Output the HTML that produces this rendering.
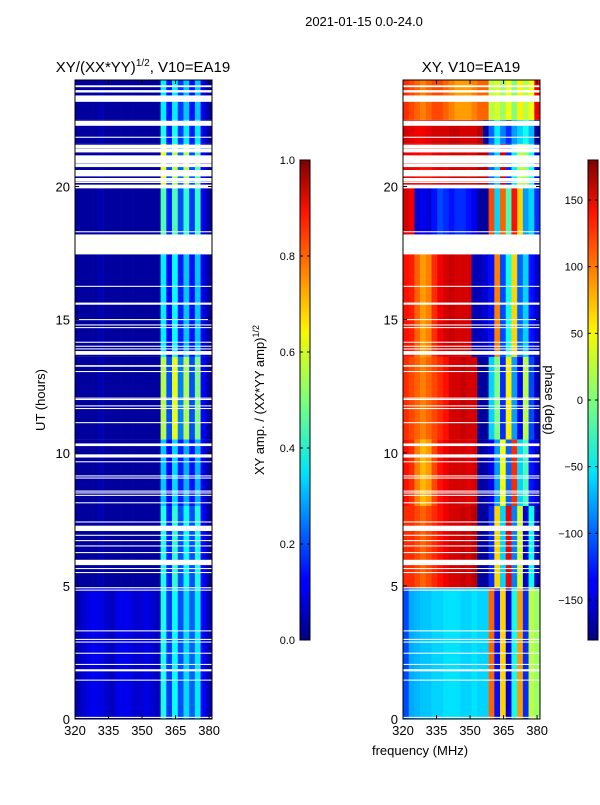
<!DOCTYPE html>
<html><head><meta charset="utf-8">
<style>
html,body{margin:0;padding:0;background:#fff;}
svg text{font-family:"Liberation Sans",sans-serif;fill:#000;}
</style></head>
<body>
<svg id="fig" width="600" height="800" viewBox="0 0 600 800" xmlns="http://www.w3.org/2000/svg">
<defs>
<linearGradient id="jet" x1="0" y1="1" x2="0" y2="0">
<stop offset="0" stop-color="#00007f"/><stop offset="0.11" stop-color="#0000ff"/>
<stop offset="0.125" stop-color="#0000ff"/><stop offset="0.34" stop-color="#00dbff"/>
<stop offset="0.35" stop-color="#00e5f7"/><stop offset="0.5" stop-color="#7dff7a"/>
<stop offset="0.64" stop-color="#f7f700"/><stop offset="0.66" stop-color="#ffe600"/>
<stop offset="0.89" stop-color="#ff1300"/><stop offset="1" stop-color="#7f0000"/>
</linearGradient>
</defs>
<text x="364" y="26" font-size="13" text-anchor="middle">2021-01-15 0.0-24.0</text>
<g id="left"></g>
<g id="right"></g>
<g id="axes"></g>
</svg>
<script>
// ---- data ----
const freqMin = 320, freqMax = 381.3, nChan = 24;
const blockStart = [0, 4.9, 8.0, 10.5, 13.6, 18.2, 20.0, 21.6, 22.5];
const blockEnd   = [4.9, 8.0, 10.5, 13.6, 17.5, 20.0, 21.6, 22.5, 24.0];
const ampB0 = [0.05,0.08,0.1,0.11,0.1,0.08,0.06,0.1,0.11,0.1,0.08,0.08,0.1,0.08,0.06,0.4,0.18,0.38,0.2,0.34,0.22,0.36,0.12,0.05];
const ampB1 = [0.03,0.03,0.03,0.03,0.05,0.03,0.03,0.03,0.03,0.03,0.03,0.03,0.03,0.03,0.03,0.4,0.15,0.42,0.2,0.38,0.2,0.4,0.12,0.03];
const ampB2 = [0.03,0.03,0.03,0.03,0.05,0.03,0.03,0.03,0.03,0.03,0.03,0.03,0.03,0.03,0.03,0.32,0.12,0.34,0.15,0.3,0.14,0.3,0.1,0.03];
const ampB3 = [0.03,0.03,0.03,0.03,0.05,0.03,0.03,0.03,0.03,0.03,0.03,0.03,0.03,0.03,0.03,0.55,0.2,0.6,0.25,0.55,0.2,0.5,0.12,0.03];
const ampB4 = [0.03,0.03,0.03,0.03,0.05,0.03,0.03,0.03,0.03,0.03,0.03,0.03,0.03,0.03,0.03,0.36,0.12,0.38,0.15,0.32,0.14,0.32,0.1,0.03];
const ampB5 = [0.03,0.03,0.03,0.03,0.05,0.03,0.03,0.03,0.03,0.03,0.03,0.03,0.03,0.03,0.03,0.45,0.15,0.45,0.2,0.42,0.18,0.42,0.1,0.03];
const ampB6 = [0.03,0.03,0.03,0.03,0.05,0.03,0.03,0.03,0.03,0.03,0.03,0.03,0.03,0.03,0.03,0.6,0.2,0.55,0.22,0.55,0.2,0.45,0.12,0.03];
const ampB7 = [0.03,0.03,0.03,0.03,0.05,0.03,0.03,0.03,0.03,0.03,0.03,0.03,0.03,0.03,0.03,0.4,0.14,0.4,0.18,0.36,0.15,0.36,0.1,0.03];
const ampB8 = [0.03,0.03,0.03,0.03,0.05,0.03,0.03,0.03,0.03,0.03,0.03,0.03,0.03,0.03,0.03,0.36,0.14,0.36,0.18,0.32,0.14,0.32,0.1,0.03];
const phB0 = [-110,-75,-70,-65,-65,-60,-60,-55,-55,-55,-60,-60,-55,-60,-60,100,-130,60,-150,-40,80,-120,20,10];
const phB1 = [120,120,110,100,110,120,130,140,150,150,155,150,160,-170,-170,-120,60,-60,140,-90,30,-150,-40,-160];
const phB2 = [130,120,90,70,80,110,130,140,150,150,150,145,150,-170,-165,-140,-80,40,-100,120,-60,-20,-130,-150];
const phB3 = [120,110,100,90,100,110,120,130,150,150,155,150,150,-170,-170,-60,0,-120,50,-80,-140,20,-110,-160];
const phB4 = [130,125,100,80,90,120,140,150,155,150,150,150,-160,-160,-150,-130,90,-110,-40,60,-100,-60,-130,-150];
const phB5 = [150,140,-150,-140,-150,-130,-110,-120,-130,-120,-120,-130,-140,-170,-170,110,-60,100,-20,130,60,-80,-60,-120];
const phB6 = [140,140,135,130,130,140,145,140,150,150,150,145,150,160,160,-100,-60,150,-120,-50,20,10,-40,-150];
const phB7 = [150,145,140,140,145,150,150,150,155,155,150,150,150,160,-170,-100,-50,-90,-120,-80,-60,-40,-70,-170];
const phB8 = [120,110,100,90,100,110,110,100,90,80,80,80,90,100,100,20,30,10,40,0,50,20,40,140];
const flagStart = [0.04,1.44,1.79,2.03,2.45,2.87,2.97,3.29,4.82,4.91,5.48,5.63,5.78,6.23,6.48,6.68,6.88,7.06,7.38,8.1,8.38,8.47,8.54,9.03,9.11,9.64,9.82,10.25,11.11,11.64,11.74,11.98,12.03,13.03,13.23,13.68,13.88,13.98,14.13,14.68,14.78,14.98,15.56,16.23,17.45,18.28,19.93,20.13,20.18,20.38,20.73,20.88,21.28,21.43,21.83,22.28,23.18,23.53,23.73];
const flagEnd   = [0.08,1.48,1.87,2.07,2.49,2.91,3.01,3.33,4.86,4.95,5.52,5.67,5.98,6.27,6.52,6.72,6.92,7.26,7.42,8.14,8.42,8.51,8.58,9.07,9.15,9.68,9.94,10.35,11.15,11.68,11.78,12.02,12.07,13.07,13.29,13.82,13.92,14.02,14.17,14.72,14.82,15.02,15.64,16.27,18.15,18.32,20.07,20.17,20.32,20.62,20.87,21.17,21.42,21.57,21.87,22.47,23.42,23.62,23.8];
const amps = [ampB0,ampB1,ampB2,ampB3,ampB4,ampB5,ampB6,ampB7,ampB8];
const phases = [phB0,phB1,phB2,phB3,phB4,phB5,phB6,phB7,phB8];
const yTicks = [0,5,10,15,20];
const xTicks = [320,335,350,365,380];
const ampTicks = [0.0,0.2,0.4,0.6,0.8,1.0];
const phTicks = [-150,-100,-50,0,50,100,150];

// ---- helpers ----
const NS = "http://www.w3.org/2000/svg";
const axesG = document.getElementById('axes');
const PT = 80, PB = 719;
function yScale(h){ return PB - (h/24)*(PB-PT); }
function xScale(x0,x1){ return f => x0 + (f-freqMin)/(freqMax-freqMin)*(x1-x0); }
function jet(v){
  v = Math.max(0, Math.min(1, v));
  const c = x => Math.round(255*Math.max(0, Math.min(1, x)));
  const r = 1.5 - Math.abs(4*v-3), g = 1.5 - Math.abs(4*v-2), b = 1.5 - Math.abs(4*v-1);
  return `rgb(${c(r)},${c(g)},${c(b)})`;
}
function mk(tag, attrs, parent){
  const e = document.createElementNS(NS, tag);
  for (const k in attrs) e.setAttribute(k, attrs[k]);
  (parent||axesG).appendChild(e);
  return e;
}
function drawHeat(gid, x0, x1, data, norm){
  const g = document.getElementById(gid);
  const xs = xScale(x0,x1);
  const cw = (freqMax-freqMin)/nChan;
  for (let b=0;b<blockStart.length;b++){
    const yTop = yScale(blockEnd[b]), yBot = yScale(blockStart[b]);
    for (let c=0;c<nChan;c++){
      const xa = xs(freqMin + c*cw), xb = xs(freqMin + (c+1)*cw);
      const r = mk('rect',{x:xa.toFixed(2),y:yTop.toFixed(2),width:(xb-xa+0.3).toFixed(2),height:(yBot-yTop).toFixed(2),fill:jet(norm(data[b][c]))},g);
      
      
    }
  }
  for (let i=0;i<flagStart.length;i++){
    const yt = yScale(flagEnd[i]), yb = yScale(flagStart[i]);
    const r = mk('rect',{x:x0,y:yt.toFixed(2),width:x1-x0,height:Math.max(1,yb-yt).toFixed(2),fill:'#fff'},g);
    
    
  }
}
function drawAxes(x0, x1, name){
  const xs = xScale(x0,x1);
  const fr = mk('rect',{x:x0,y:PT,width:x1-x0,height:PB-PT,fill:'none',stroke:'#000','stroke-width':1});
  
  
  yTicks.forEach(t=>{
    const y = yScale(t);
    mk('line',{x1:x0,x2:x0+4,y1:y,y2:y,stroke:'#000'});
    mk('line',{x1:x1,x2:x1-4,y1:y,y2:y,stroke:'#000'});
    const tx = mk('text',{x:x0-5,y:y+5,'font-size':13,'text-anchor':'end'});
    tx.textContent = t;
    
    
  });
  xTicks.forEach(t=>{
    const x = xs(t);
    mk('line',{x1:x,x2:x,y1:PB,y2:PB-4,stroke:'#000'});
    mk('line',{x1:x,x2:x,y1:PT,y2:PT+4,stroke:'#000'});
    const tx = mk('text',{x:x,y:PB+16,'font-size':13,'text-anchor':'middle'});
    tx.textContent = t;
    
    
  });
}
function drawCbar(x, ticks, vmin, vmax, name){
  const r = mk('rect',{x:x,y:160,width:10,height:480,fill:'url(#jet)',stroke:'#000','stroke-width':1});
  
  
  ticks.forEach(t=>{
    const y = 640 - (t-vmin)/(vmax-vmin)*480;
    mk('line',{x1:x,x2:x+3,y1:y,y2:y,stroke:'#000'});
    mk('line',{x1:x+10,x2:x+7,y1:y,y2:y,stroke:'#000'});
    const tx = mk('text',{x:x-5,y:y+4,'font-size':11,'text-anchor':'end'});
    tx.textContent = (vmax<=1) ? t.toFixed(1) : (t<0 ? '\u2212'+(-t) : t);
    
    
  });
}

drawHeat('left', 75, 212, amps, v=>v);
drawHeat('right', 403, 540, phases, v=>(v+180)/360);
drawAxes(75, 212, 'amplitude-panel');
drawAxes(403, 540, 'phase-panel');
drawCbar(300, ampTicks, 0, 1, 'amplitude-colorbar');
drawCbar(588, phTicks, -180, 180, 'phase-colorbar');
</script>
<svg style="position:absolute;left:0;top:0" width="600" height="800">
<text x="143" y="72" font-size="15" text-anchor="middle" font-family="Liberation Sans, sans-serif">XY/(XX*YY)<tspan font-size="10" dy="-6">1/2</tspan><tspan dy="6">, V10=EA19</tspan></text>
<text x="471" y="72" font-size="15" text-anchor="middle" font-family="Liberation Sans, sans-serif">XY, V10=EA19</text>
<text transform="translate(45,400) rotate(-90)" font-size="13" text-anchor="middle" font-family="Liberation Sans, sans-serif">UT (hours)</text>
<text x="420" y="755" font-size="13" text-anchor="middle" font-family="Liberation Sans, sans-serif">frequency (MHz)</text>
<text transform="translate(264,400) rotate(-90)" font-size="13" text-anchor="middle" font-family="Liberation Sans, sans-serif">XY amp. / (XX*YY amp)<tspan font-size="9" dy="-5">1/2</tspan></text>
<text transform="translate(545,400) rotate(90)" font-size="13" text-anchor="middle" font-family="Liberation Sans, sans-serif">phase (deg)</text>
</svg>
</body></html>
